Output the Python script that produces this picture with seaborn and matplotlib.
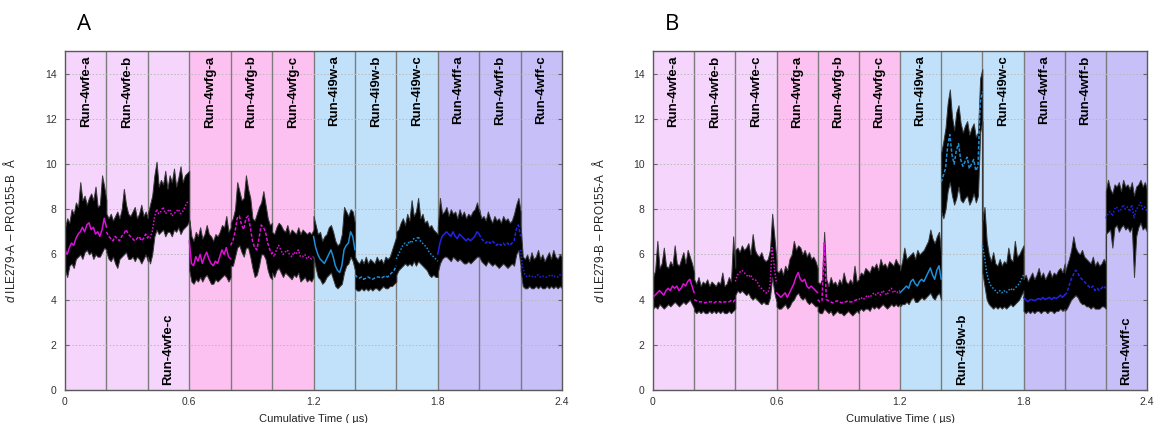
import numpy as np
import pandas as pd
import matplotlib
matplotlib.use("Agg")
import matplotlib.pyplot as plt
import seaborn as sns

# ---- runs and layout of the cumulative time axis -------------------------
runs = ["Run-4wfe-a", "Run-4wfe-b", "Run-4wfe-c",
        "Run-4wfg-a", "Run-4wfg-b", "Run-4wfg-c",
        "Run-4i9w-a", "Run-4i9w-b", "Run-4i9w-c",
        "Run-4wff-a", "Run-4wff-b", "Run-4wff-c"]
run_length_us = 0.2
x_ticks = [0, 0.6, 1.2, 1.8, 2.4]
x_tick_labels = ["0", "0.6", "1.2", "1.8", "2.4"]
y_ticks = [0, 2, 4, 6, 8, 10, 12, 14]

# ---- panel A: d(ILE279-A - PRO155-B), Angstrom ------------------------------
# running mean, lower and upper envelope of the raw distance, 20 samples/run
a_mean = [
    [6.2, 6.0, 6.3, 6.5, 6.4, 6.7, 6.9, 7.0, 7.2, 7.0, 7.3, 7.4, 7.1, 7.2, 6.9, 7.0, 6.8, 7.1, 7.6, 7.2],
    [7.0, 6.8, 6.7, 6.6, 6.8, 6.7, 6.6, 6.8, 6.9, 7.1, 6.9, 6.8, 6.7, 6.6, 6.7, 6.8, 6.6, 6.7, 6.9, 6.7],
    [6.8, 6.7, 7.0, 7.6, 8.0, 7.8, 7.9, 8.1, 7.8, 7.9, 8.0, 7.7, 7.8, 7.9, 8.0, 7.8, 7.9, 8.1, 8.3, 8.3],
    [6.6, 5.6, 5.5, 5.9, 5.7, 6.0, 5.6, 5.9, 6.1, 5.8, 5.6, 5.5, 5.7, 5.6, 5.9, 6.2, 6.0, 6.3, 5.9, 5.8],
    [6.4, 6.6, 7.0, 7.6, 7.7, 7.3, 7.1, 7.6, 7.7, 7.2, 6.6, 6.3, 6.2, 6.7, 7.3, 7.2, 7.0, 6.5, 6.2, 6.0],
    [6.1, 5.9, 6.2, 6.4, 6.2, 6.0, 6.1, 6.2, 6.0, 5.9, 6.1, 6.0, 6.2, 5.9, 5.9, 6.0, 5.8, 5.9, 5.8, 5.9],
    [6.8, 6.3, 6.0, 5.8, 5.7, 5.6, 5.8, 6.0, 6.2, 5.9, 5.5, 5.3, 5.2, 5.5, 6.2, 6.4, 6.5, 7.0, 6.8, 6.2],
    [5.1, 5.0, 4.95, 5.0, 4.9, 4.95, 5.0, 4.95, 4.9, 4.95, 5.0, 5.0, 4.95, 5.0, 5.05, 5.0, 5.1, 5.2, 5.3, 5.5],
    [5.8, 6.0, 6.2, 6.4, 6.5, 6.4, 6.6, 6.5, 6.7, 6.6, 6.8, 6.6, 6.5, 6.4, 6.3, 6.1, 6.0, 5.9, 5.8, 5.7],
    [6.0, 6.5, 6.8, 6.9, 7.0, 6.9, 6.8, 7.0, 6.8, 6.7, 6.9, 6.8, 6.7, 6.6, 6.7, 6.6, 6.7, 6.8, 7.0, 6.9],
    [6.9, 6.7, 6.6, 6.5, 6.6, 6.5, 6.6, 6.5, 6.4, 6.5, 6.4, 6.5, 6.4, 6.5, 6.4, 6.5, 6.6, 7.1, 7.3, 6.8],
    [6.2, 5.4, 5.1, 5.0, 5.05, 5.0, 5.05, 5.0, 5.1, 5.0, 5.05, 5.0, 5.0, 5.05, 5.1, 5.0, 5.05, 5.0, 5.1, 5.05],
]
a_lo = [
    [5.3, 5.0, 5.5, 5.6, 5.4, 5.8, 5.9, 6.0, 5.8, 6.1, 6.2, 6.0, 6.1, 5.8, 6.0, 5.9, 5.9, 6.1, 6.3, 6.2],
    [6.1, 5.8, 5.7, 5.9, 5.6, 5.4, 5.8, 5.9, 6.0, 6.1, 5.8, 5.8, 5.9, 5.7, 5.9, 5.8, 5.6, 5.8, 6.0, 5.7],
    [5.9, 5.6, 6.0, 6.8, 7.1, 6.9, 7.0, 7.1, 6.8, 7.0, 7.0, 6.8, 7.1, 7.0, 7.2, 6.9, 7.1, 7.2, 7.3, 7.5],
    [5.3, 4.8, 4.7, 4.9, 4.8, 5.0, 4.8, 5.0, 5.1, 4.9, 4.7, 4.7, 4.9, 4.8, 4.9, 5.0, 5.1, 5.0, 4.8, 5.0],
    [5.5, 5.5, 5.9, 6.3, 6.4, 6.1, 5.9, 6.3, 6.3, 5.9, 5.4, 5.0, 5.1, 5.5, 6.0, 6.0, 5.8, 5.3, 5.0, 4.9],
    [5.2, 5.0, 5.3, 5.4, 5.2, 5.0, 5.2, 5.1, 5.0, 4.9, 5.1, 5.0, 5.2, 4.8, 4.9, 5.0, 4.8, 4.9, 4.8, 5.0],
    [5.9, 5.4, 5.0, 4.9, 4.7, 4.8, 5.0, 5.1, 5.2, 4.9, 4.6, 4.5, 4.6, 4.7, 5.2, 5.5, 5.6, 5.9, 5.7, 5.3],
    [4.5, 4.4, 4.4, 4.5, 4.4, 4.5, 4.4, 4.5, 4.4, 4.5, 4.5, 4.4, 4.5, 4.6, 4.5, 4.5, 4.6, 4.6, 4.7, 4.8],
    [5.1, 5.3, 5.4, 5.5, 5.6, 5.5, 5.6, 5.5, 5.7, 5.5, 5.7, 5.6, 5.5, 5.4, 5.3, 5.1, 5.0, 5.1, 5.0, 5.0],
    [5.2, 5.6, 5.8, 5.9, 5.9, 5.8, 5.7, 5.9, 5.8, 5.7, 5.8, 5.7, 5.6, 5.6, 5.7, 5.6, 5.7, 5.8, 5.9, 5.9],
    [5.9, 5.7, 5.6, 5.5, 5.7, 5.6, 5.5, 5.6, 5.5, 5.4, 5.5, 5.6, 5.5, 5.4, 5.5, 5.6, 5.5, 6.0, 6.2, 5.5],
    [5.3, 4.6, 4.5, 4.5, 4.6, 4.5, 4.5, 4.6, 4.5, 4.6, 4.5, 4.5, 4.6, 4.5, 4.6, 4.5, 4.6, 4.5, 4.6, 4.5],
]
a_hi = [
    [7.2, 7.6, 7.4, 8.0, 7.8, 8.3, 8.1, 9.2, 8.4, 8.6, 8.2, 8.5, 8.7, 8.4, 9.0, 8.1, 8.2, 9.5, 9.0, 8.4],
    [7.8, 7.6, 7.8, 7.5, 7.7, 7.9, 7.6, 8.0, 8.9, 8.2, 7.8, 7.7, 7.9, 8.1, 7.6, 7.8, 8.2, 7.7, 7.9, 7.6],
    [7.8, 8.2, 8.6, 9.5, 10.1, 9.0, 9.3, 9.1, 9.7, 8.9, 9.5, 9.2, 9.8, 9.0, 9.4, 9.9, 9.2, 9.5, 9.6, 9.7],
    [7.6, 6.8, 6.6, 7.0, 6.8, 7.2, 6.7, 6.9, 7.3, 6.9, 6.8, 6.6, 6.9, 6.8, 7.0, 7.3, 7.2, 7.7, 7.0, 7.2],
    [7.4, 7.6, 8.0, 9.2, 8.8, 8.4, 8.5, 9.5, 8.9, 8.5, 7.6, 7.5, 7.8, 8.1, 8.3, 8.8, 8.2, 7.6, 7.3, 7.4],
    [7.0, 6.9, 7.2, 7.4, 7.3, 7.1, 7.0, 7.3, 6.9, 7.1, 7.0, 6.9, 7.2, 6.9, 7.1, 7.0, 6.9, 7.0, 6.9, 7.1],
    [7.7, 7.3, 6.9, 7.0, 6.6, 6.8, 6.9, 7.2, 7.3, 7.0, 6.6, 6.4, 6.5, 6.9, 8.1, 7.9, 7.7, 8.0, 7.9, 7.4],
    [5.9, 5.7, 5.6, 5.8, 5.6, 5.9, 5.6, 5.8, 5.7, 5.6, 5.9, 5.7, 5.8, 5.6, 5.9, 5.8, 5.9, 6.2, 6.5, 6.8],
    [7.0, 7.1, 7.4, 7.6, 7.3, 7.8, 7.5, 8.4, 7.7, 7.9, 8.5, 7.6, 7.8, 7.4, 7.5, 7.2, 7.3, 7.1, 7.0, 6.9],
    [7.2, 8.5, 7.8, 7.9, 8.1, 7.7, 8.0, 7.8, 7.9, 7.6, 8.0, 7.7, 7.9, 7.6, 7.8, 7.7, 7.9, 8.0, 8.3, 7.9],
    [8.0, 7.6, 7.7, 7.5, 7.9, 7.6, 7.4, 7.7, 7.5, 7.6, 7.4, 7.7, 7.5, 7.6, 7.4, 7.5, 7.8, 8.2, 8.5, 7.9],
    [7.3, 5.9, 5.8, 6.0, 5.7, 6.1, 5.8, 5.9, 6.2, 5.8, 6.0, 5.7, 5.9, 6.1, 5.8, 6.2, 5.9, 5.8, 6.0, 5.9],
]

# ---- panel B: d(ILE279-B - PRO155-A), Angstrom ------------------------------
b_mean = [
    [4.1, 4.2, 4.3, 4.4, 4.3, 4.2, 4.4, 4.5, 4.4, 4.6, 4.5, 4.6, 4.4, 4.5, 4.7, 4.6, 4.8, 4.9, 4.6, 4.3],
    [4.0, 3.95, 3.9, 3.9, 3.9, 3.85, 3.9, 3.9, 3.9, 3.85, 3.9, 3.9, 3.9, 3.85, 3.9, 3.9, 3.9, 3.95, 3.9, 4.0],
    [4.8, 5.1, 5.2, 5.3, 5.2, 5.1, 5.0, 5.1, 4.9, 4.9, 4.8, 4.6, 4.5, 4.4, 4.3, 4.3, 4.6, 6.3, 5.4, 4.7],
    [4.3, 4.2, 4.1, 4.2, 4.3, 4.1, 4.3, 4.5, 4.7, 5.0, 5.2, 4.9, 4.8, 4.9, 4.6, 4.5, 4.6, 4.5, 4.4, 4.3],
    [4.0, 3.9, 3.95, 6.5, 4.0, 3.95, 3.9, 3.85, 3.9, 3.95, 3.9, 3.85, 3.9, 3.9, 3.95, 3.9, 3.9, 3.95, 4.0, 3.95],
    [4.0, 4.1, 4.0, 4.1, 4.2, 4.1, 4.2, 4.3, 4.2, 4.3, 4.2, 4.4, 4.3, 4.2, 4.4, 4.5, 4.3, 4.4, 4.3, 4.4],
    [4.3, 4.4, 4.5, 4.6, 4.5, 4.8, 4.9, 4.7, 4.6, 4.8, 4.9, 4.8, 5.0, 5.2, 5.4, 5.1, 4.9, 5.3, 5.5, 4.9],
    [9.2, 9.5, 9.8, 10.8, 11.3, 10.4, 10.0, 10.6, 10.9, 10.2, 9.9, 10.1, 10.3, 9.8, 10.0, 10.2, 9.7, 9.9, 12.7, 13.2],
    [6.4, 5.9, 5.2, 4.8, 4.6, 4.5, 4.4, 4.3, 4.4, 4.3, 4.4, 4.3, 4.4, 4.5, 4.4, 4.5, 4.6, 4.7, 4.9, 5.1],
    [4.1, 4.0, 3.9, 4.0, 4.0, 3.95, 4.0, 4.05, 4.0, 4.1, 4.0, 4.05, 4.1, 4.0, 4.1, 4.05, 4.1, 4.2, 4.1, 4.2],
    [4.2, 4.3, 4.6, 4.9, 5.1, 5.3, 5.2, 5.0, 4.9, 4.8, 4.7, 4.6, 4.5, 4.6, 4.4, 4.5, 4.4, 4.5, 4.6, 4.5],
    [7.6, 7.8, 7.9, 7.7, 8.0, 8.1, 7.9, 8.0, 8.2, 8.0, 8.1, 7.9, 8.2, 7.6, 8.0, 8.1, 8.3, 8.0, 8.1, 7.9],
]
b_lo = [
    [3.6, 3.7, 3.6, 3.8, 3.7, 3.6, 3.7, 3.8, 3.7, 3.8, 3.9, 3.8, 3.7, 3.8, 3.9, 3.8, 3.9, 4.0, 3.8, 3.6],
    [3.5, 3.4, 3.5, 3.4, 3.5, 3.4, 3.4, 3.5, 3.4, 3.5, 3.4, 3.5, 3.4, 3.5, 3.4, 3.4, 3.5, 3.4, 3.5, 3.6],
    [4.2, 4.4, 4.3, 4.4, 4.3, 4.2, 4.3, 4.1, 4.0, 4.1, 4.0, 3.9, 3.8, 3.9, 3.8, 3.8, 4.1, 5.0, 4.3, 3.9],
    [3.7, 3.6, 3.6, 3.7, 3.8, 3.6, 3.7, 3.9, 4.0, 4.2, 4.3, 4.1, 4.0, 4.1, 3.9, 3.8, 3.9, 3.8, 3.7, 3.7],
    [3.5, 3.4, 3.4, 3.6, 3.5, 3.4, 3.5, 3.3, 3.4, 3.5, 3.4, 3.4, 3.3, 3.4, 3.5, 3.4, 3.3, 3.4, 3.5, 3.4],
    [3.5, 3.6, 3.5, 3.6, 3.6, 3.5, 3.7, 3.6, 3.7, 3.6, 3.7, 3.8, 3.7, 3.6, 3.7, 3.8, 3.7, 3.8, 3.7, 3.8],
    [3.7, 3.8, 3.8, 3.9, 3.8, 4.0, 4.1, 3.9, 3.9, 4.0, 4.1, 4.0, 4.1, 4.2, 4.3, 4.1, 4.0, 4.2, 4.3, 4.0],
    [7.9, 7.6, 8.0, 8.8, 9.2, 8.6, 8.2, 8.5, 9.0, 8.4, 8.3, 8.5, 8.6, 8.2, 8.4, 8.7, 8.3, 8.6, 11.4, 11.9],
    [5.2, 4.6, 4.0, 3.8, 3.7, 3.6, 3.7, 3.6, 3.7, 3.6, 3.7, 3.6, 3.7, 3.8, 3.7, 3.8, 3.9, 4.0, 4.2, 4.4],
    [3.5, 3.4, 3.5, 3.4, 3.5, 3.4, 3.5, 3.5, 3.4, 3.5, 3.5, 3.4, 3.5, 3.5, 3.4, 3.5, 3.5, 3.6, 3.5, 3.6],
    [3.5, 3.6, 3.8, 4.0, 4.1, 4.2, 4.1, 3.9, 3.8, 3.8, 3.7, 3.7, 3.6, 3.7, 3.6, 3.6, 3.6, 3.7, 3.7, 3.6],
    [6.9, 7.0, 7.1, 6.3, 7.2, 7.3, 7.0, 7.2, 7.3, 7.1, 7.2, 7.0, 7.2, 5.0, 6.8, 7.2, 7.4, 7.1, 7.2, 7.0],
]
b_hi = [
    [5.0, 5.3, 6.6, 5.4, 5.6, 6.3, 5.5, 5.4, 5.7, 5.5, 6.4, 5.6, 5.5, 5.8, 6.1, 5.6, 6.2, 5.9, 5.6, 5.2],
    [4.9, 4.7, 5.0, 4.6, 4.8, 4.7, 4.9, 4.6, 4.8, 4.7, 4.6, 4.8, 4.7, 5.2, 4.6, 4.7, 5.0, 4.8, 6.8, 5.4],
    [6.2, 6.3, 6.1, 6.4, 6.2, 6.3, 6.5, 6.0, 6.9, 6.2, 6.0, 5.9, 6.1, 5.8, 5.7, 5.8, 6.2, 7.8, 6.8, 5.7],
    [5.3, 5.2, 5.4, 5.1, 5.5, 5.3, 5.8, 6.0, 6.6, 6.2, 6.4, 6.3, 6.0, 6.2, 5.9, 6.1, 5.8, 5.9, 5.7, 5.4],
    [4.8, 4.7, 4.9, 7.0, 4.9, 4.6, 5.0, 4.7, 4.8, 4.6, 4.9, 4.7, 5.2, 4.8, 4.7, 4.9, 4.7, 5.5, 4.8, 4.9],
    [5.0, 5.2, 5.1, 5.4, 5.3, 5.2, 5.5, 5.4, 5.6, 5.3, 5.8, 5.5, 5.6, 5.4, 5.7, 5.6, 5.5, 5.8, 5.6, 5.5],
    [5.3, 5.7, 6.3, 5.8, 5.9, 6.0, 6.1, 5.8, 6.2, 6.0, 6.1, 6.2, 6.4, 6.6, 7.1, 6.7, 6.5, 6.8, 7.0, 6.0],
    [10.5, 11.0, 11.6, 12.7, 13.3, 12.1, 11.5, 12.3, 12.6, 11.8, 11.4, 11.7, 11.9, 11.3, 11.6, 11.8, 11.2, 11.4, 13.8, 14.2],
    [7.5, 8.1, 6.6, 6.0, 5.7, 6.1, 5.6, 5.5, 5.8, 5.5, 5.7, 5.6, 6.3, 5.8, 5.7, 6.6, 5.9, 6.0, 6.2, 6.4],
    [4.9, 5.1, 4.8, 5.0, 5.2, 4.9, 5.1, 5.4, 5.0, 5.2, 4.9, 5.1, 5.3, 5.0, 5.2, 5.1, 5.3, 5.4, 5.2, 5.6],
    [5.2, 5.5, 5.8, 6.2, 6.8, 6.3, 6.1, 6.0, 6.2, 5.9, 5.8, 5.7, 5.6, 5.9, 5.5, 5.7, 5.5, 5.6, 5.8, 5.6],
    [8.8, 9.3, 8.9, 8.7, 9.1, 9.0, 9.2, 8.8, 9.3, 9.0, 9.1, 8.9, 9.2, 8.6, 9.0, 9.1, 9.3, 9.0, 9.2, 8.9],
]

# ---- styling ----------------------------------------------------------------
system_bg = {"4wfe": "#f5d5fb", "4wfg": "#fdc1f1", "4i9w": "#c1e1fa", "4wff": "#c6bff8"}
system_line = {"4wfe": "#dd10dd", "4wfg": "#e010d8", "4i9w": "#1d8fd8", "4wff": "#2323e8"}
replica_dash = {"a": "", "b": (2.2, 1.2), "c": (1.0, 1.2)}

panels = [
    dict(letter="A", mean=a_mean, lo=a_lo, hi=a_hi,
         ylabel="$d$ ILE279-A \u2013 PRO155-B  \u00c5",
         bottom_labels={"Run-4wfe-c"}),
    dict(letter="B", mean=b_mean, lo=b_lo, hi=b_hi,
         ylabel="$d$ ILE279-B \u2013 PRO155-A  \u00c5",
         bottom_labels={"Run-4i9w-b", "Run-4wff-c"}),
]

sns.set_theme(style="white")
plt.rcParams["font.family"] = ["Liberation Sans", "DejaVu Sans"]
plt.rcParams["mathtext.fontset"] = "custom"
plt.rcParams["mathtext.it"] = "Liberation Sans:italic"
plt.rcParams["mathtext.rm"] = "Liberation Sans"

W, H = 1155, 423
fig = plt.figure(figsize=(W / 100, H / 100), dpi=100)
axes_px = [(65, 51, 497, 339), (653, 51, 494, 339)]  # left, top, width, height


def run_times(i, n):
    start = i * run_length_us
    return start + np.linspace(0.0, run_length_us, n)


for p, (left, top, w, h) in zip(panels, axes_px):
    ax = fig.add_axes([left / W, 1 - (top + h) / H, w / W, h / H])

    # long-form table of the running mean for every run
    rows = []
    t_all, lo_all, hi_all = [], [], []
    for i, run in enumerate(runs):
        t = run_times(i, len(p["mean"][i]))
        system, rep = run.split("-")[1], run.split("-")[2]
        for tt, v in zip(t, p["mean"][i]):
            rows.append({"t": tt, "d": v, "run": run, "system": system, "rep": rep})
        t_all.extend(t)
        lo_all.extend(p["lo"][i])
        hi_all.extend(p["hi"][i])
    df = pd.DataFrame(rows)

    # coloured background per crystal system and run separators
    for i, run in enumerate(runs):
        system = run.split("-")[1]
        ax.axvspan(i * run_length_us, (i + 1) * run_length_us,
                   color=system_bg[system], lw=0, zorder=0)
    for i in range(1, len(runs)):
        ax.axvline(i * run_length_us, color="#7c7c7c", lw=1.0, zorder=1.2)

    # raw distance envelope
    ax.fill_between(t_all, lo_all, hi_all, color="black", lw=0.7,
                    edgecolor="#3a3a3a", zorder=2)

    # running mean, one line per run
    palette = {r: system_line[r.split("-")[1]] for r in runs}
    dashes = {r: replica_dash[r.split("-")[2]] for r in runs}
    sns.lineplot(data=df, x="t", y="d", hue="run", style="run",
                 palette=palette, dashes=dashes, estimator=None, sort=False,
                 legend=False, lw=1.1, ax=ax, zorder=3)

    # run names
    for i, run in enumerate(runs):
        xc = (i + 0.5) * run_length_us
        if run in p["bottom_labels"]:
            ax.text(xc, 0.2, run, rotation=90, ha="center", va="bottom",
                    fontsize=9.5, fontweight="bold", color="black", zorder=4)
        else:
            ax.text(xc, 14.8, run, rotation=90, ha="center", va="top",
                    fontsize=9.5, fontweight="bold", color="black", zorder=4)

    ax.set_xlim(0, 2.4)
    ax.set_ylim(0, 15)
    ax.set_xticks(x_ticks)
    ax.set_xticklabels(x_tick_labels)
    ax.set_yticks(y_ticks)
    ax.set_axisbelow("line")
    ax.yaxis.grid(True, color="#b8b8b8", lw=0.7, ls=(0, (1.5, 2)))
    ax.xaxis.grid(False)
    ax.tick_params(axis="both", labelsize=7.5, labelcolor="#333333",
                   direction="in", length=3, color="#666666", width=0.8)
    ax.tick_params(axis="y", right=True, left=True, pad=6)
    ax.tick_params(axis="x", bottom=False, pad=5)
    for s in ax.spines.values():
        s.set_color("#5a5a5a")
        s.set_linewidth(1.0)
        s.set_zorder(5)

    ax.set_xlabel("Cumulative Time ( \u00b5s)", fontsize=8, color="#222222", labelpad=5)
    ax.set_ylabel(p["ylabel"], fontsize=8.5, color="#222222", labelpad=12)
    ax.yaxis.set_label_coords(-0.094, 0.47)

    fig.text((left + 19) / W, 1 - 25 / H, p["letter"], fontsize=16,
             ha="center", va="center", color="black", family=["Open Sans", "DejaVu Sans"])

fig.savefig("out.png", dpi=100, facecolor="white")
